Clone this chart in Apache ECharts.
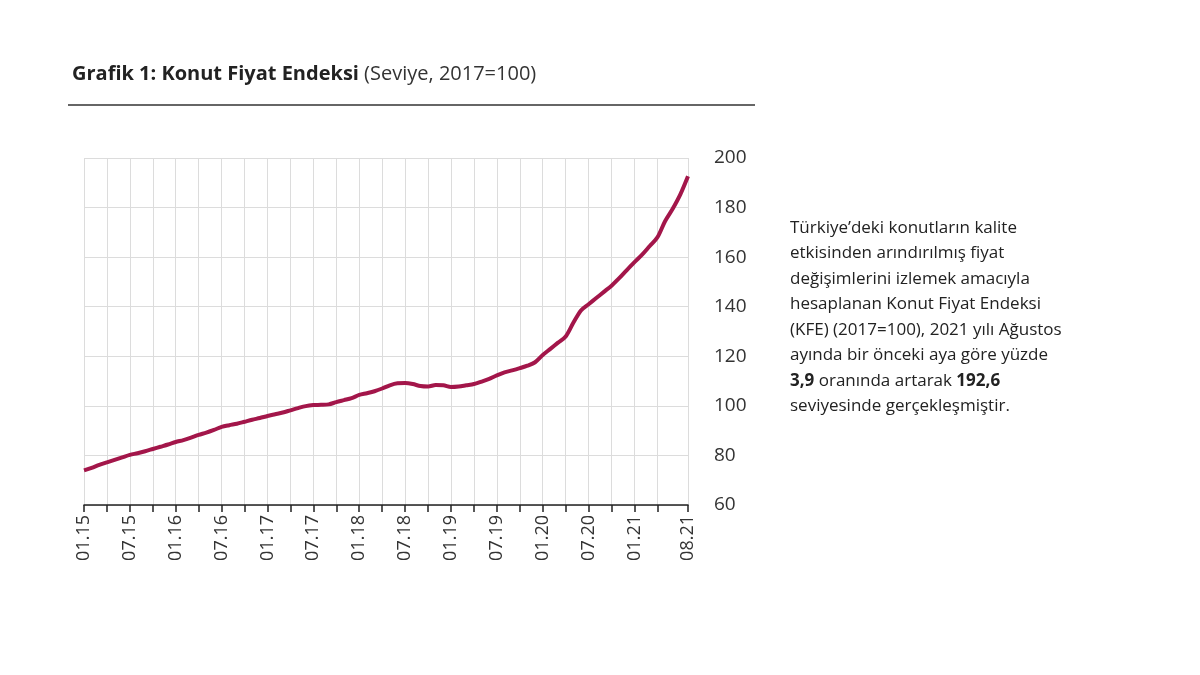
<!DOCTYPE html>
<html><head><meta charset="utf-8">
<script src="https://cdn.jsdelivr.net/npm/echarts@6/dist/echarts.min.js"></script>
<style>html,body{margin:0;padding:0;background:#fff}#c{width:1200px;height:675px}</style>
</head><body><div id="c"></div>
<script>
const years = ['15','16','17','18','19','20','21'];
const categories = [];
years.forEach(y => { for (let m = 1; m <= 12; m++) { if (y === '21' && m > 8) break; categories.push((m < 10 ? '0' + m : '' + m) + '.' + y); } });
const v2015 = [74,75,76.2,77.2,78.2,79.2,80.2,80.9,81.7,82.6,83.5,84.4];
const v2016 = [85.4,86.2,87.2,88.3,89.2,90.3,91.5,92.2,92.8,93.6,94.4,95.1];
const v2017 = [95.9,96.6,97.3,98.2,99.1,99.9,100.3,100.4,100.6,101.5,102.3,103.1];
const v2018 = [104.4,105.1,105.9,107.0,108.3,109.1,109.2,108.8,108.0,107.8,108.4,108.3];
const v2019 = [107.6,107.8,108.3,108.8,109.8,110.9,112.3,113.5,114.3,115.2,116.2,117.6];
const v2020 = [120.5,123,125.5,128,133.5,138.5,141,143.5,146,148.5,151.5,154.8];
const v2021 = [158,161,164.5,168,174.5,179.5,185.3,192.6];
const values = [].concat(v2015,v2016,v2017,v2018,v2019,v2020,v2021);
const yTicks = [60,80,100,120,140,160,180,200];
const title = 'Grafik 1: Konut Fiyat Endeksi';
const subtitle = ' (Seviye, 2017=100)';
const noteLines = ['Türkiye’deki konutların kalite','etkisinden arındırılmış fiyat','değişimlerini izlemek amacıyla','hesaplanan Konut Fiyat Endeksi','(KFE) (2017=100), 2021 yılı Ağustos','ayında bir önceki aya göre yüzde','{b|3,9} oranında artarak {b|192,6}','seviyesinde gerçekleşmiştir.'];
const last = categories.length - 1;
const F = 'Open Sans';
const tickAt = i => i === last || (i % 3 === 0 && i < last - 2);
const labelAt = i => i === last || (i % 6 === 0 && i < last - 2);
const chart = echarts.init(document.getElementById('c'));
chart.setOption({
  animation:false,
  textStyle:{fontFamily:F},
  grid:{left:84,right:512,top:158,bottom:170},
  xAxis:{type:'category',data:categories,boundaryGap:false,
    axisLine:{lineStyle:{color:'#222',width:1.5}},
    axisTick:{interval:tickAt,length:7,lineStyle:{color:'#222',width:1.5}},
    splitLine:{show:true,interval:tickAt,lineStyle:{color:'#dcdcdc'}},
    axisLabel:{interval:labelAt,rotate:90,fontSize:18,color:'#333',margin:10,fontFamily:F}},
  yAxis:{type:'value',position:'right',min:yTicks[0],max:yTicks[yTicks.length-1],interval:20,
    axisLine:{show:false},axisTick:{show:false},
    splitLine:{lineStyle:{color:'#dcdcdc'}},
    axisLabel:{fontSize:19,color:'#333',margin:26,fontFamily:F}},
  series:[{type:'line',data:values,symbol:'none',smooth:0.3,lineStyle:{color:'#a3164a',width:4}}],
  graphic:[
    {type:'text',left:72,top:64,style:{text:'{b|'+title+'}{n|'+subtitle+'}',rich:{b:{fontSize:20,fontWeight:'bold',fontFamily:F,fill:'#222'},n:{fontSize:20,fontFamily:F,fill:'#333'}}}},
    {type:'line',shape:{x1:68,y1:105,x2:755,y2:105},style:{stroke:'#333',lineWidth:1.5}},
    {type:'text',left:790,top:215,style:{text:noteLines.join('\n'),fontSize:17,lineHeight:25.5,fontFamily:F,fill:'#222',rich:{b:{fontSize:17,fontWeight:'bold',fontFamily:F,fill:'#222'}}}}
  ]
});
</script></body></html>
